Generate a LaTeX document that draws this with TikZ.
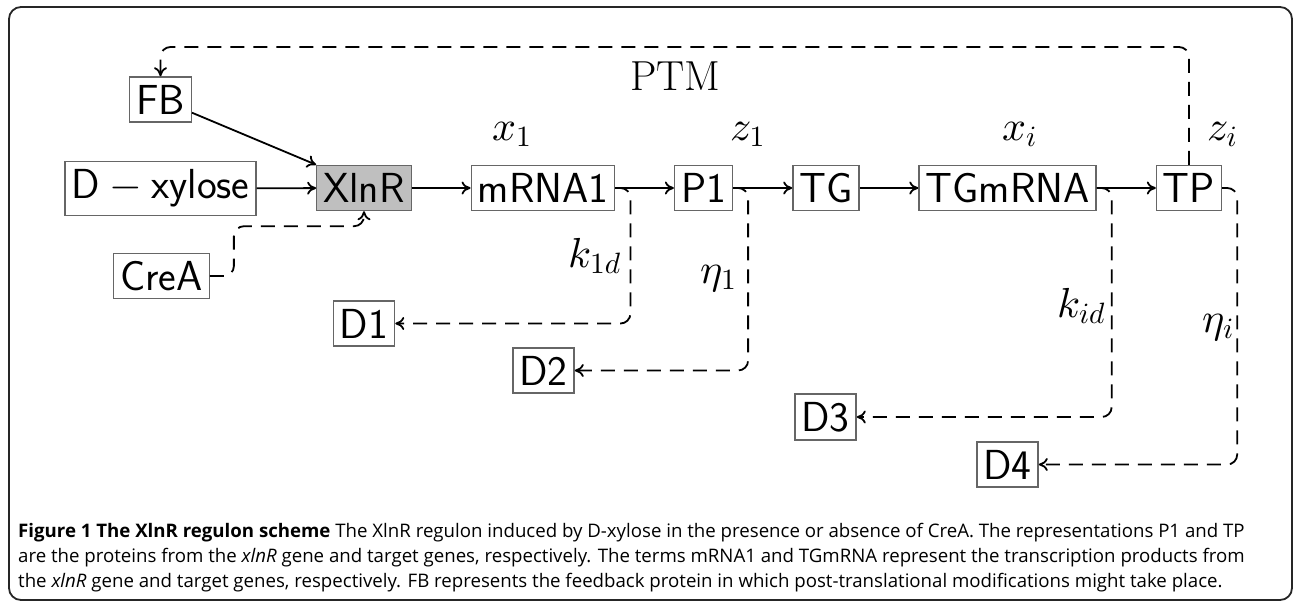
\documentclass[tikz,border=0pt]{standalone}
\usepackage{fontspec}
\DeclareFontFamily{OML}{cmm}{\skewchar\font127}
\DeclareFontShape{OML}{cmm}{m}{it}{<-> cmmi10}{}
\DeclareFontFamily{OMS}{cmsy}{\skewchar\font48}
\DeclareFontShape{OMS}{cmsy}{m}{n}{<-> cmsy10}{}
\DeclareFontFamily{OT1}{cmr}{\hyphenchar\font45}
\DeclareFontShape{OT1}{cmr}{m}{n}{<-> cmr10}{}
\newfontfamily\capfont{Open Sans}
\usetikzlibrary{arrows.meta,calc}
\begin{document}
\begin{tikzpicture}[x=1pt,y=-1pt]
\tikzset{
  box/.style={draw=black!60, line width=1.3pt, inner xsep=6.5pt, inner ysep=8pt,
    font=\fontsize{42}{50}\selectfont\sffamily},
  lab/.style={inner sep=0pt, anchor=base west, font=\fontsize{42}{50}\selectfont},
  arr/.style={line width=1.8pt, -{To[length=9pt,width=13pt]}},
  darr/.style={arr, dash pattern=on 14pt off 9pt, rounded corners=10pt},
  captxt/.style={inner sep=0pt, anchor=base west, font=\capfont\fontsize{18.65}{25}\selectfont},
}
\useasboundingbox (0,0) rectangle (1293,602);
\draw[line width=1.8pt, black!85, rounded corners=12pt] (9,7) rectangle (1292,600);

% nodes
\node[box] (FB) at (160.5,99.5) {FB};
\node[box] (DX) at (160.5,188.5) {D${}-{}$xylose};
\node[box, fill=black!25] (X) at (364,188) {XlnR};
\node[box] (M) at (543,188) {mRNA1};
\node[box] (P) at (703.5,188) {P1};
\node[box] (TG) at (826,188) {TG};
\node[box] (TM) at (1007.5,188) {TGmRNA};
\node[box] (TP) at (1189,188) {TP};
\node[box] (C) at (161.5,276) {CreA};
\node[box] (D1) at (364,323.5) {D1};
\node[box] (D2) at (543.5,370.5) {D2};
\node[box] (D3) at (825.5,417) {D3};
\node[box] (D4) at (1007.5,464.5) {D4};
\coordinate (top) at (0,47);

% labels
\node[lab] (ptm) at (630,90) {PTM};
\node[lab] (lx1) at (492,140) {$x_1$};
\node[lab] (lz1) at (730,140) {$z_1$};
\node[lab] (lxi) at (1002,140) {$x_i$};
\node[lab] (lzi) at (1207,140) {$z_i$};
\node[lab] (lk1) at (568,267) {$k_{1d}$};
\node[lab] (le1) at (700,283) {$\eta_1$};
\node[lab] (lki) at (1057,317) {$k_{id}$};
\node[lab] (lei) at (1202,332) {$\eta_i$};

% solid connectors
\draw[arr] (DX) -- (X);
\draw[arr] (FB) -- (X.north west);
\draw[arr] (X) -- (M);
\draw[arr] (M) -- (P);
\draw[arr] (P) -- (TG);
\draw[arr] (TG) -- (TM);
\draw[arr] (TM) -- (TP);

% dashed connectors
\draw[darr] (M.east) -- ++(15,0) |- (D1.east);
\draw[darr] (P.east) -- ++(15,0) |- (D2.east);
\draw[darr] (TM.east) -- ++(15,0) |- (D3.east);
\draw[darr] (TP.east) -- ++(15,0) |- (D4.east);
\draw[darr] (TP.north) |- (top -| FB.north) -- (FB.north);
\draw[darr] (C.east) -- ++(24,0) |- ($(X.south)+(0,15)$) -- (X.south);

% caption
\node[captxt] (cap1) at (18,537) {\textbf{Figure 1 The XlnR regulon scheme} The XlnR regulon induced by D-xylose in the presence or absence of CreA. The representations P1 and TP};
\node[captxt] (cap2) at (18,562) {are the proteins from the \textit{xlnR} gene and target genes, respectively. The terms mRNA1 and TGmRNA represent the transcription products from};
\node[captxt] (cap3) at (18,587) {the \textit{xlnR} gene and target genes, respectively. FB represents the feedback protein in which post-translational modifications might take place.};
\end{tikzpicture}
\end{document}
